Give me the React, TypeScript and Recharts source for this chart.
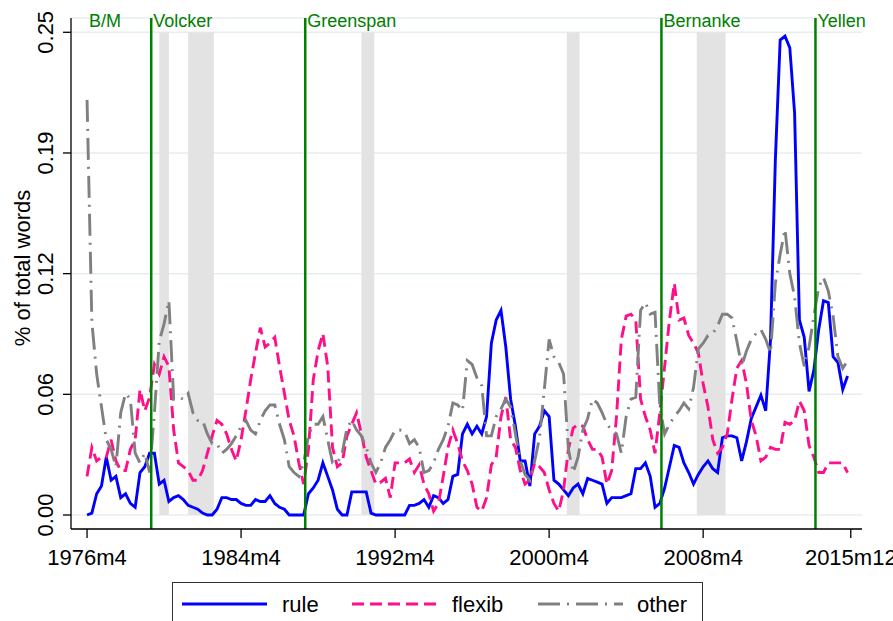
import React from "react";
import {
  LineChart, Line, XAxis, YAxis, CartesianGrid,
  ReferenceLine, ReferenceArea, Legend,
} from "recharts";

// months counted from 1976m4, one value every quarter
const STEP = 3;

const xTicks = [0, 96, 192, 288, 384, 476];
const xTickLabels = ["1976m4", "1984m4", "1992m4", "2000m4", "2008m4", "2015m12"];
const yTicks = [0, 0.0625, 0.125, 0.1875, 0.25];
const yTickLabels = ["0.00", "0.06", "0.12", "0.19", "0.25"];

// Fed chairs: start month (offset from 1976m4)
const chairLabels = ["B/M", "Volcker", "Greenspan", "Bernanke", "Yellen"];
const chairMonths = [0, 40, 136, 358, 454];

// NBER recessions
const recessionStarts = [45, 63, 171, 299, 380];
const recessionEnds = [51, 79, 179, 307, 398];

const rule = [
  0, 0.001, 0.011, 0.015, 0.03, 0.018, 0.02, 0.009, 0.011, 0.006,
  0.004, 0.022, 0.025, 0.032, 0.032, 0.016, 0.018, 0.007, 0.009, 0.01,
  0.008, 0.005, 0.004, 0.003, 0.001, 0, 0, 0.003, 0.009, 0.009,
  0.008, 0.008, 0.006, 0.005, 0.005, 0.008, 0.007, 0.007, 0.01, 0.006,
  0.004, 0.003, 0, 0, 0, 0, 0.011, 0.014, 0.018, 0.027,
  0.02, 0.013, 0.003, 0, 0, 0.012, 0.012, 0.012, 0.012, 0.001,
  0, 0, 0, 0, 0, 0, 0, 0.005, 0.005, 0.006,
  0.008, 0.004, 0.01, 0.009, 0.006, 0.008, 0.02, 0.021, 0.042, 0.047,
  0.042, 0.046, 0.042, 0.051, 0.089, 0.101, 0.106, 0.087, 0.06, 0.046,
  0.028, 0.028, 0.015, 0.042, 0.046, 0.054, 0.051, 0.018, 0.016, 0.013,
  0.01, 0.014, 0.016, 0.011, 0.019, 0.018, 0.017, 0.016, 0.006, 0.009,
  0.009, 0.009, 0.01, 0.011, 0.024, 0.024, 0.027, 0.02, 0.004, 0.006,
  0.014, 0.025, 0.036, 0.035, 0.027, 0.022, 0.016, 0.021, 0.025, 0.028,
  0.024, 0.022, 0.04, 0.041, 0.041, 0.04, 0.028, 0.038, 0.05, 0.056,
  0.062, 0.054, 0.091, 0.184, 0.246, 0.248, 0.242, 0.208, 0.101, 0.092,
  0.064, 0.075, 0.096, 0.111, 0.11, 0.082, 0.079, 0.065, 0.072,
];

const flexib = [
  0.02, 0.035, 0.028, 0.03, 0.03, 0.039, 0.028, 0.023, 0.023, 0.034,
  0.039, 0.065, 0.054, 0.061, 0.078, 0.073, 0.082, 0.077, 0.044, 0.027,
  0.025, 0.023, 0.018, 0.018, 0.023, 0.032, 0.041, 0.049, 0.047, 0.042,
  0.034, 0.028, 0.039, 0.054, 0.07, 0.084, 0.097, 0.087, 0.089, 0.092,
  0.077, 0.063, 0.049, 0.041, 0.027, 0.016, 0.034, 0.07, 0.085, 0.094,
  0.077, 0.035, 0.025, 0.027, 0.041, 0.047, 0.053, 0.042, 0.03, 0.023,
  0.016, 0.017, 0.019, 0.009, 0.027, 0.027, 0.027, 0.029, 0.022, 0.026,
  0.016, 0.011, 0.002, 0.006, 0.02, 0.035, 0.044, 0.037, 0.028, 0.023,
  0.016, 0.004, 0.002, 0.009, 0.026, 0.03, 0.051, 0.061, 0.039, 0.035,
  0.023, 0.016, 0.018, 0.027, 0.025, 0.022, 0.013, 0.006, 0.002, 0.013,
  0.034, 0.045, 0.047, 0.046, 0.039, 0.034, 0.034, 0.03, 0.016, 0.023,
  0.051, 0.091, 0.103, 0.104, 0.101, 0.06, 0.051, 0.044, 0.032, 0.053,
  0.077, 0.101, 0.12, 0.101, 0.102, 0.093, 0.089, 0.084, 0.068, 0.056,
  0.039, 0.032, 0.035, 0.042, 0.06, 0.076, 0.08, 0.068, 0.049, 0.041,
  0.028, 0.03, 0.035, 0.034, 0.034, 0.048, 0.047, 0.049, 0.059, 0.054,
  0.036, 0.03, 0.022, 0.022, 0.027, 0.027, 0.027, 0.027, 0.022,
];

const other = [
  0.215, 0.1, 0.073, 0.056, 0.039, 0.034, 0.025, 0.053, 0.063, 0.06,
  0.032, 0.027, 0.032, 0.022, 0.053, 0.09, 0.099, 0.111, 0.06, 0.061,
  0.06, 0.063, 0.053, 0.049, 0.049, 0.042, 0.037, 0.037, 0.032, 0.034,
  0.037, 0.041, 0.046, 0.049, 0.044, 0.042, 0.049, 0.054, 0.057, 0.057,
  0.047, 0.039, 0.025, 0.022, 0.02, 0.027, 0.041, 0.047, 0.047, 0.051,
  0.039, 0.027, 0.027, 0.032, 0.045, 0.049, 0.044, 0.041, 0.035, 0.027,
  0.022, 0.027, 0.035, 0.039, 0.044, 0.044, 0.043, 0.037, 0.039, 0.035,
  0.022, 0.023, 0.027, 0.034, 0.039, 0.046, 0.058, 0.057, 0.054, 0.08,
  0.078, 0.071, 0.067, 0.041, 0.041, 0.051, 0.055, 0.06, 0.056, 0.042,
  0.028, 0.021, 0.018, 0.028, 0.04, 0.065, 0.091, 0.082, 0.079, 0.073,
  0.034, 0.022, 0.03, 0.044, 0.05, 0.06, 0.058, 0.053, 0.047, 0.044,
  0.042, 0.032, 0.051, 0.06, 0.061, 0.106, 0.11, 0.104, 0.105, 0.056,
  0.042, 0.047, 0.051, 0.054, 0.058, 0.055, 0.066, 0.086, 0.089, 0.093,
  0.094, 0.098, 0.104, 0.104, 0.102, 0.09, 0.077, 0.085, 0.091, 0.094,
  0.096, 0.091, 0.084, 0.12, 0.135, 0.148, 0.125, 0.113, 0.089, 0.077,
  0.087, 0.103, 0.118, 0.123, 0.116, 0.103, 0.082, 0.076, 0.08,
];

const data = rule.map((r, i) => ({
  t: i * STEP,
  rule: r,
  flexib: flexib[i],
  other: other[i],
}));

const FONT = '"Liberation Sans", Arial, Helvetica, sans-serif';
const GREEN = "#008000";
const BLUE = "#0000ff";
const PINK = "#ff0f8a";
const GRAY = "#808080";
const LW = 2.9;

function XTick(props: any) {
  const { x, y, payload } = props;
  const i = xTicks.indexOf(payload.value);
  return (
    <text x={x} y={y + 25} textAnchor="middle" fontSize={22} fill="#000" fontFamily={FONT}>
      {xTickLabels[i]}
    </text>
  );
}

function YTick(props: any) {
  const { y, payload } = props;
  const i = yTicks.indexOf(payload.value);
  const bx = 53;
  return (
    <text
      x={bx} y={y}
      transform={`rotate(-90 ${bx} ${y})`}
      textAnchor="middle" fontSize={22} fill="#000" fontFamily={FONT}
    >
      {yTickLabels[i]}
    </text>
  );
}

function LegendBox() {
  return (
    <svg width={531} height={50} style={{ display: "block" }}>
      <rect x={0.5} y={0.5} width={530} height={60} fill="#fff" stroke="#333" strokeWidth={1} />
      <line x1={10} y1={22} x2={95} y2={22} stroke={BLUE} strokeWidth={LW} />
      <text x={110} y={30} fontSize={22} fontFamily={FONT} fill="#000">rule</text>
      <line x1={180} y1={22} x2={266} y2={22} stroke={PINK} strokeWidth={LW} strokeDasharray="12 6" />
      <text x={280} y={30} fontSize={22} fontFamily={FONT} fill="#000">flexib</text>
      <line x1={366} y1={22} x2={451} y2={22} stroke={GRAY} strokeWidth={LW} strokeDasharray="22 7 2 7" />
      <text x={465} y={30} fontSize={22} fontFamily={FONT} fill="#000">other</text>
    </svg>
  );
}

export default function App() {
  return (
    <div style={{ position: "absolute", left: 0, top: 0, width: 893, height: 621, overflow: "hidden", background: "#fff", fontFamily: FONT }}>
      <LineChart width={893} height={621} data={data} margin={{ top: 18, right: 31, left: 0, bottom: 0 }}>
        <CartesianGrid vertical={false} stroke="#e6edf1" strokeWidth={1.5} />
        <XAxis
          dataKey="t" type="number" domain={[-10, 483]} ticks={xTicks} interval={0}
          allowDataOverflow height={92} tickSize={9}
          tick={<XTick />}
          axisLine={{ stroke: "#000", strokeWidth: 1.3 }}
          tickLine={{ stroke: "#000", strokeWidth: 1.3 }}
        />
        <YAxis
          type="number" domain={[-0.00725, 0.2574]} ticks={yTicks} interval={0}
          allowDataOverflow width={71} tickSize={8}
          tick={<YTick />}
          axisLine={{ stroke: "#000", strokeWidth: 1.3 }}
          tickLine={{ stroke: "#000", strokeWidth: 1.3 }}
          label={
            <text x={30} y={273.5} transform="rotate(-90 30 273.5)" textAnchor="middle" fontSize={22} fill="#000" fontFamily={FONT}>
              % of total words
            </text>
          }
        />
        {recessionStarts.map((s, i) => (
          <ReferenceArea key={"r" + i} x1={s} x2={recessionEnds[i]} y1={0} y2={0.25} fill="#e3e3e3" fillOpacity={1} stroke="none" />
        ))}
        <Line type="linear" dataKey="rule" stroke={BLUE} strokeWidth={LW} dot={false} isAnimationActive={false} />
        <Line type="linear" dataKey="flexib" stroke={PINK} strokeWidth={LW} strokeDasharray="12 6" dot={false} isAnimationActive={false} />
        <Line type="linear" dataKey="other" stroke={GRAY} strokeWidth={LW} strokeDasharray="22 7 2 7" dot={false} isAnimationActive={false} />
        {chairMonths.map((m, i) => (
          <ReferenceLine
            key={"c" + i} x={m}
            stroke={i === 0 ? "none" : GREEN} strokeWidth={2.5}
            label={(p: any) => (
              <text x={p.viewBox.x + 2} y={p.viewBox.y + 9} fontSize={18} fill={GREEN} fontFamily={FONT}>
                {chairLabels[i]}
              </text>
            )}
          />
        ))}
        <Legend
          layout="vertical" align="center" verticalAlign="middle"
          wrapperStyle={{ left: 172, top: 582, width: 531, height: 50 }}
          content={() => <LegendBox />}
        />
      </LineChart>
    </div>
  );
}
